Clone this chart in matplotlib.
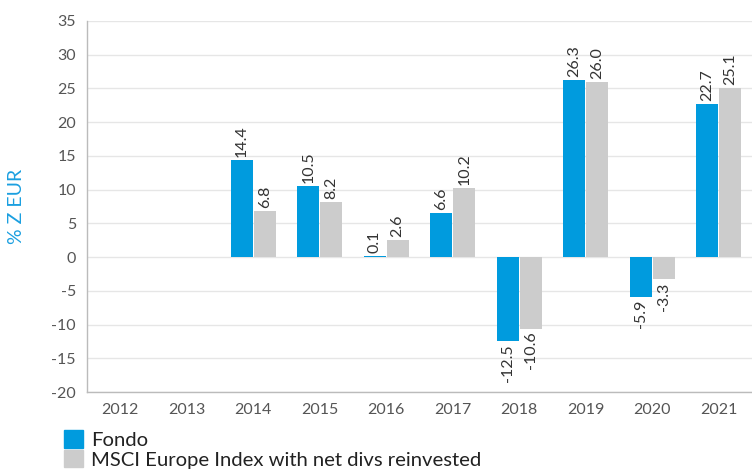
import numpy as np
import matplotlib.pyplot as plt
from matplotlib.patches import Patch

years = ["2012", "2013", "2014", "2015", "2016", "2017", "2018", "2019", "2020", "2021"]
fondo = [None, None, 14.4, 10.5, 0.1, 6.6, -12.5, 26.3, -5.9, 22.7]
index = [None, None, 6.8, 8.2, 2.6, 10.2, -10.6, 26.0, -3.3, 25.1]
series_names = ["Fondo", "MSCI Europe Index with net divs reinvested"]
yticks = [-20, -15, -10, -5, 0, 5, 10, 15, 20, 25, 30, 35]

BLUE = "#009bde"
GREY = "#cccccc"
plt.rcParams['font.family'] = ['Lato', 'DejaVu Sans']
plt.rcParams['axes.unicode_minus'] = False

fig = plt.figure(figsize=(7.52, 4.70), dpi=100)
ax = fig.add_axes([87 / 752, 78 / 470, 665 / 752, 371 / 470])

x = np.arange(len(years))
w = 0.33
for vals, off, col in [(fondo, -0.172, BLUE), (index, 0.172, GREY)]:
    for i, v in enumerate(vals):
        if v is None:
            continue
        ax.bar(x[i] + off, v, width=w, color=col, zorder=3)
        ax.text(x[i] + off, v + (0.45 if v >= 0 else -0.45), f"{v:.1f}",
                rotation=90, ha="center", va="bottom" if v >= 0 else "top",
                fontsize=11.5, color="#333333", zorder=4)

ax.set_xlim(-0.5, len(years) - 0.5)
ax.set_ylim(-20, 35)
ax.set_yticks(yticks)
ax.set_xticks(x)
ax.set_xticklabels(years)
ax.tick_params(length=0, labelsize=11.5, colors="#555555", pad=8)
ax.grid(axis="y", color="#e6e6e6", linewidth=1, zorder=0)
for s in ["top", "right"]:
    ax.spines[s].set_visible(False)
for s in ["left", "bottom"]:
    ax.spines[s].set_color("#bbbbbb")
    ax.spines[s].set_linewidth(1)

fig.text(16 / 752, (470 - 206) / 470, "% Z EUR", rotation=90, ha="center",
         va="center", color="#1a9fe0", fontsize=14)

handles = [Patch(color=BLUE), Patch(color=GREY)]
fig.legend(handles, series_names, loc="upper left",
           bbox_to_anchor=(56 / 752, 1 - 422 / 470), frameon=False,
           fontsize=14.6, handlelength=0.95, handleheight=0.95,
           handletextpad=0.4, labelspacing=0.05, borderaxespad=0,
           labelcolor="#222222")

fig.savefig("out.png", dpi=100)
